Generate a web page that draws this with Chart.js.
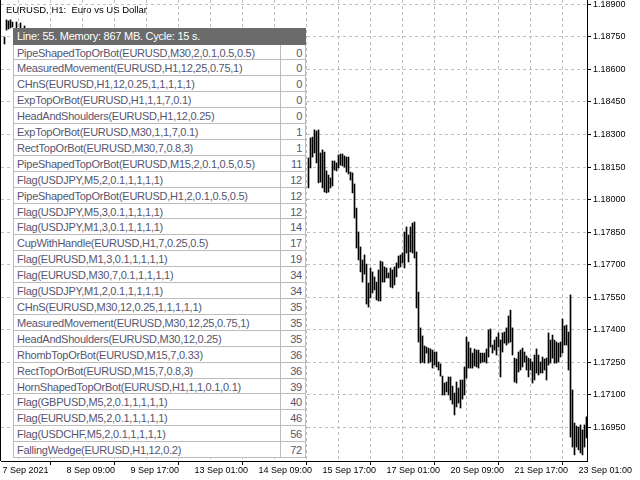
<!DOCTYPE html>
<html>
<head>
<meta charset="utf-8">
<script src="https://cdn.jsdelivr.net/npm/chart.js@4.4.1/dist/chart.umd.min.js"></script>
<style>
  html, body { margin: 0; padding: 0; background: #fff; }
  #wrap { position: relative; width: 640px; height: 480px; overflow: hidden; }
  #title { position: absolute; left: 6px; top: 4px; font: 9.5px "Liberation Sans", Arial, sans-serif; color: #000; white-space: pre; }
  #tbl { position: absolute; left: 13px; top: 28px; width: 293px; height: 433px; overflow: hidden;
         font: 11px "Liberation Sans", Arial, sans-serif; letter-spacing: -0.25px; }
  .hd { height: 16.5px; background: #6b6b6b; color: #fff; line-height: 16px; padding-left: 4px; box-sizing: border-box; white-space: nowrap; }
  .r { display: flex; height: 15.92px; box-sizing: border-box; background: #fff; color: #555570;
       border: 1px solid #bcbcbc; border-top: none; line-height: 16.5px; white-space: nowrap; }
  .n { flex: 1; padding-left: 3px; border-right: 1px solid #bcbcbc; overflow: hidden; }
  .c { width: 21px; text-align: right; padding-right: 3px; }
</style>
</head>
<body>
<div id="wrap">
  <canvas id="priceChart" width="640" height="480"></canvas>
  <div id="title">EURUSD, H1:  Euro vs US Dollar</div>
  <div id="tbl"><div class="hd">Line: 55. Memory: 867 MB. Cycle: 15 s.</div></div>
</div>
<script>
// H1 bars, index 0 = 7 Sep 2021 00:00; most of the early bars sit behind the table
const barCount = 293;
const earlyHighs = [null, 1.18749, 1.18828, 1.18823, 1.18828, 1.18818, null, 1.18818, null, 1.18814, null, 1.18800];
const earlyLows  = [null, 1.18717, 1.18781, 1.18786, 1.18791, 1.18795, null, 1.18790, null, 1.18790, null, 1.18780];
const lateStart = 153;
const lateHighs = [
  1.18192, 1.18284, 1.18288, 1.18321, 1.18316, 1.18321, 1.18215, 1.18229, 1.18219, 1.18132,
  1.18113, 1.18100, 1.18178, 1.18178, 1.18169, 1.18206, 1.18210, 1.18210, 1.18201, 1.18196,
  1.18196, 1.18127, 1.18123, 1.18072, 1.17961, 1.17851, 1.17782, 1.17722, 1.17745, 1.17703,
  1.17616, 1.17685, 1.17667, 1.17644, 1.17620, 1.17676, 1.17717, 1.17713, 1.17690, 1.17685,
  1.17662, 1.17685, 1.17676, 1.17690, 1.17708, 1.17740, 1.17745, 1.17754, 1.17851, 1.17874,
  1.17837, 1.17874, 1.17892, 1.17897, 1.17759, 1.17574, 1.17409, 1.17372, 1.17326, 1.17321,
  1.17316, 1.17312, 1.17307, 1.17298, 1.17298, 1.17252, 1.17243, 1.17187, 1.17155, 1.17160,
  1.17183, 1.17183, 1.17141, 1.17109, 1.17160, 1.17132, 1.17169, 1.17169, 1.17229, 1.17367,
  1.17344, 1.17316, 1.17293, 1.17312, 1.17307, 1.17307, 1.17293, 1.17293, 1.17293, 1.17312,
  1.17399, 1.17404, 1.17330, 1.17353, 1.17367, 1.17386, 1.17353, 1.17386, 1.17390, 1.17409,
  1.17464, 1.17491, 1.17409, 1.17270, 1.17266, 1.17298, 1.17307, 1.17316, 1.17298, 1.17280,
  1.17270, 1.17266, 1.17252, 1.17284, 1.17312, 1.17284, 1.17252, 1.17275, 1.17266, 1.17270,
  1.17386, 1.17353, 1.17376, 1.17353, 1.17344, 1.17339, 1.17344, 1.17450, 1.17418, 1.17422,
  1.17390, 1.17561, 1.17123, 1.16971, 1.16957, 1.16952, 1.16962, 1.16939, 1.16962, 1.16999
];
const lateLows = [
  1.18054, 1.18146, 1.18196, 1.18215, 1.18169, 1.18077, 1.18081, 1.18054, 1.18035, 1.18031,
  1.18035, 1.18054, 1.18063, 1.18136, 1.18132, 1.18146, 1.18159, 1.18155, 1.18150, 1.18127,
  1.18118, 1.18090, 1.18031, 1.17915, 1.17777, 1.17722, 1.17667, 1.17620, 1.17657, 1.17519,
  1.17505, 1.17547, 1.17570, 1.17584, 1.17538, 1.17533, 1.17533, 1.17620, 1.17620, 1.17639,
  1.17639, 1.17597, 1.17593, 1.17607, 1.17644, 1.17685, 1.17690, 1.17708, 1.17685, 1.17754,
  1.17713, 1.17759, 1.17754, 1.17731, 1.17501, 1.17344, 1.17247, 1.17252, 1.17247, 1.17293,
  1.17247, 1.17252, 1.17224, 1.17238, 1.17229, 1.17215, 1.17187, 1.17100, 1.17100, 1.17114,
  1.17100, 1.17077, 1.17058, 1.17008, 1.17045, 1.17063, 1.17040, 1.17081, 1.17100, 1.17178,
  1.17224, 1.17224, 1.17224, 1.17234, 1.17229, 1.17224, 1.17247, 1.17252, 1.17252, 1.17247,
  1.17275, 1.17321, 1.17293, 1.17307, 1.17284, 1.17321, 1.17183, 1.17298, 1.17339, 1.17330,
  1.17339, 1.17344, 1.17284, 1.17160, 1.17155, 1.17206, 1.17215, 1.17229, 1.17252, 1.17215,
  1.17183, 1.17215, 1.17155, 1.17169, 1.17201, 1.17192, 1.17201, 1.17201, 1.17215, 1.17169,
  1.17238, 1.17247, 1.17270, 1.17247, 1.17247, 1.17252, 1.17275, 1.17293, 1.17330, 1.17330,
  1.17215, 1.16906, 1.16860, 1.16824, 1.16860, 1.16847, 1.16833, 1.16824, 1.16860, 1.16902
];

const priceTicks = [1.16950, 1.17100, 1.17250, 1.17400, 1.17550, 1.17700, 1.17850,
                    1.18000, 1.18150, 1.18300, 1.18450, 1.18600, 1.18750, 1.18900];
const timeLabels = ["7 Sep 2021", "8 Sep 09:00", "9 Sep 17:00", "13 Sep 01:00", "14 Sep 09:00",
                    "15 Sep 17:00", "17 Sep 01:00", "20 Sep 09:00", "21 Sep 17:00", "23 Sep 01:00"];
const gridStep = 16;

const patternNames = [
  "PipeShapedTopOrBot(EURUSD,M30,2,0.1,0.5,0.5)",
  "MeasuredMovement(EURUSD,H1,12,25,0.75,1)",
  "CHnS(EURUSD,H1,12,0.25,1,1,1,1,1)",
  "ExpTopOrBot(EURUSD,H1,1,1,7,0.1)",
  "HeadAndShoulders(EURUSD,H1,12,0.25)",
  "ExpTopOrBot(EURUSD,M30,1,1,7,0.1)",
  "RectTopOrBot(EURUSD,M30,7,0.8,3)",
  "PipeShapedTopOrBot(EURUSD,M15,2,0.1,0.5,0.5)",
  "Flag(USDJPY,M5,2,0.1,1,1,1,1)",
  "PipeShapedTopOrBot(EURUSD,H1,2,0.1,0.5,0.5)",
  "Flag(USDJPY,M5,3,0.1,1,1,1,1)",
  "Flag(USDJPY,M1,3,0.1,1,1,1,1)",
  "CupWithHandle(EURUSD,H1,7,0.25,0.5)",
  "Flag(EURUSD,M1,3,0.1,1,1,1,1)",
  "Flag(EURUSD,M30,7,0.1,1,1,1,1)",
  "Flag(USDJPY,M1,2,0.1,1,1,1,1)",
  "CHnS(EURUSD,M30,12,0.25,1,1,1,1,1)",
  "MeasuredMovement(EURUSD,M30,12,25,0.75,1)",
  "HeadAndShoulders(EURUSD,M30,12,0.25)",
  "RhombTopOrBot(EURUSD,M15,7,0.33)",
  "RectTopOrBot(EURUSD,M15,7,0.8,3)",
  "HornShapedTopOrBot(EURUSD,H1,1,1,0.1,0.1)",
  "Flag(GBPUSD,M5,2,0.1,1,1,1,1)",
  "Flag(EURUSD,M5,2,0.1,1,1,1,1)",
  "Flag(USDCHF,M5,2,0.1,1,1,1,1)",
  "FallingWedge(EURUSD,H1,12,0.2)"
];
const patternCounts = [0, 0, 0, 0, 0, 1, 1, 11, 12, 12, 12, 14, 17, 19, 34, 34, 35, 35, 35, 36, 36, 39, 40, 46, 56, 72];

document.addEventListener("DOMContentLoaded", () => {
    const tbl = document.getElementById("tbl");
    patternNames.forEach((name, i) => {
        const row = document.createElement("div");
        row.className = "r";
        row.innerHTML = '<div class="n"></div><div class="c"></div>';
        row.children[0].textContent = name;
        row.children[1].textContent = patternCounts[i];
        tbl.appendChild(row);
    });

    const points = [];
    earlyHighs.forEach((h, i) => {
        if (h !== null) points.push({ x: i, y: [earlyLows[i], h] });
    });
    lateHighs.forEach((h, k) => {
        points.push({ x: lateStart + k, y: [lateLows[k], h] });
    });

    const axisFont = { family: "Liberation Sans", size: 9 };
    const gridTicks = [];
    for (let v = 0; v < barCount; v += gridStep) gridTicks.push(v);

    const framePlugin = {
        id: "frame",
        afterDraw(chart) {
            const { ctx, chartArea } = chart;
            ctx.save();
            ctx.strokeStyle = "#000";
            ctx.lineWidth = 1;
            ctx.beginPath();
            ctx.moveTo(0.5, chartArea.top);
            ctx.lineTo(0.5, chartArea.bottom);
            ctx.stroke();
            ctx.restore();
        }
    };

    const ctx = document.getElementById("priceChart").getContext("2d");
    new Chart(ctx, {
        type: "bar",
        data: {
            datasets: [{
                data: points,
                backgroundColor: "#000",
                borderWidth: 0,
                barThickness: 1,
                grouped: false
            }]
        },
        options: {
            responsive: false,
            animation: false,
            devicePixelRatio: 1,
            layout: { padding: { left: 1, top: 0, right: 0, bottom: 0 } },
            plugins: {
                legend: { display: false },
                tooltip: { enabled: false }
            },
            scales: {
                x: {
                    type: "linear",
                    min: -0.75,
                    max: barCount - 0.75,
                    offset: false,
                    afterBuildTicks: (s) => { s.ticks = gridTicks.map(v => ({ value: v })); },
                    afterFit: (s) => { s.height = 19; s.paddingLeft = 0; s.paddingRight = 0; },
                    ticks: {
                        autoSkip: false,
                        maxRotation: 0,
                        align: "start",
                        padding: 0,
                        color: "#000",
                        font: axisFont,
                        callback: (v, i) => (i % 2 === 0 ? timeLabels[i / 2] : "")
                    },
                    grid: {
                        color: "#c0c0c0",
                        tickLength: 4,
                        tickColor: (c) => (c.index % 2 === 0 ? "#000" : "rgba(0,0,0,0)")
                    },
                    border: { color: "#000", dash: [3, 3] }
                },
                y: {
                    position: "right",
                    min: 1.167959,
                    max: 1.189196,
                    afterBuildTicks: (s) => { s.ticks = priceTicks.map(v => ({ value: v })); },
                    afterFit: (s) => { s.width = 53; s.paddingTop = 0; s.paddingBottom = 0; },
                    ticks: {
                        padding: 2,
                        color: "#000",
                        font: axisFont,
                        callback: (v) => v.toFixed(5)
                    },
                    grid: { color: "#c0c0c0", tickLength: 4, tickColor: "#000" },
                    border: { color: "#000", dash: [3, 3] }
                }
            }
        },
        plugins: [framePlugin]
    });
});
</script>
</body>
</html>
